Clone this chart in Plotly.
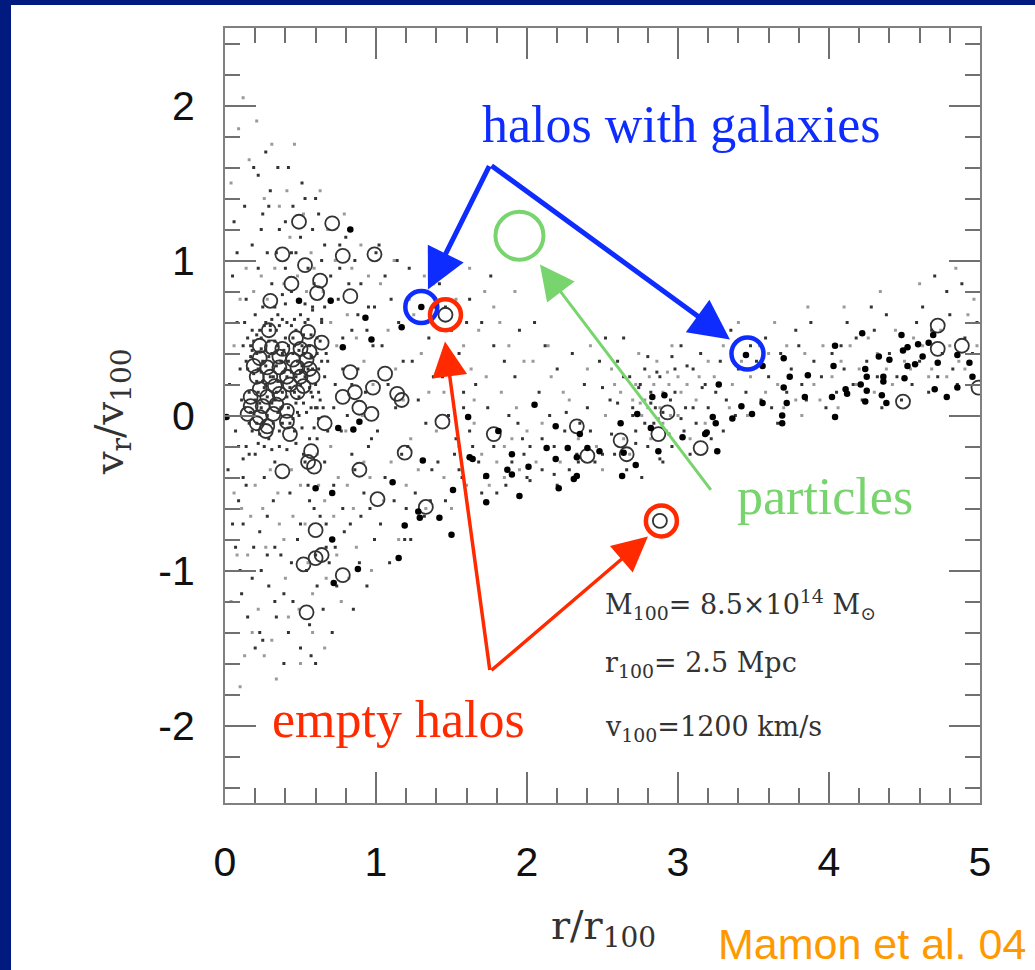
import plotly.graph_objects as go

# ---------------- data (r/r100, vr/v100) ----------------
# dark-matter particles, darker specks (approximate subsample)
particles_r = [
 0.05,0.08,0.10,0.07,0.12,0.05,0.10,0.15,0.18,0.14,0.17,0.03,0.13,0.16,0.09,0.19,0.11,0.20,0.06,0.02,
 0.22,0.25,0.28,0.31,0.35,0.24,0.38,0.27,0.33,0.21,0.36,0.26,0.32,0.23,0.37,0.29,0.34,0.25,0.39,0.30,0.36,0.22,0.40,0.30,0.38,0.28,0.24,0.33,0.27,0.35,
 0.42,0.45,0.50,0.55,0.44,0.58,0.47,0.52,0.41,0.57,0.46,0.53,0.43,0.59,0.48,0.54,0.45,0.56,0.50,0.60,0.51,0.58,0.44,0.49,0.55,0.60,0.42,0.57,
 0.62,0.66,0.70,0.75,0.64,0.78,0.68,0.73,0.61,0.77,0.66,0.72,0.63,0.79,0.69,0.74,0.65,0.71,0.80,0.76,0.67,0.60,
 0.82,0.86,0.90,0.95,0.84,0.98,0.88,0.93,0.81,0.97,0.86,0.92,0.83,0.99,0.89,0.94,0.85,1.00,0.96,
 1.02,1.06,1.10,1.15,1.04,1.18,1.08,1.13,1.01,1.17,1.06,1.12,1.03,1.19,1.09,1.14,1.20,
 1.22,1.26,1.30,1.35,1.24,1.38,1.28,1.33,1.21,1.37,1.26,1.32,1.23,1.39,1.36,
 1.42,1.46,1.50,1.55,1.44,1.58,1.48,1.53,1.41,1.57,1.46,1.52,1.60,
 1.62,1.70,1.78,1.85,1.66,1.92,1.74,1.82,1.64,1.90,1.72,1.80,1.97,1.68,1.88,1.95,1.76,2.00,
 2.05,2.12,2.20,2.30,2.08,2.38,2.15,2.25,2.02,2.33,2.10,2.20,2.45,2.40,2.28,2.48,2.18,2.35,
 2.52,2.60,2.68,2.75,2.55,2.82,2.62,2.72,2.58,2.80,2.66,2.90,2.85,2.95,2.78,2.88,2.92,2.98,2.70,2.84,2.64,2.96,2.76,
 3.02,3.10,3.18,3.25,3.05,3.32,3.12,3.22,3.08,3.30,3.15,3.40,3.45,3.38,3.48,3.28,3.04,3.20,3.35,
 3.52,3.60,3.68,3.75,3.55,3.82,3.62,3.72,3.58,3.80,3.66,3.90,3.85,3.95,3.78,3.88,3.98,
 4.02,4.10,4.18,4.25,4.05,4.32,4.12,4.22,4.08,4.30,4.16,4.40,4.45,4.38,4.48,4.28,4.35,
 4.52,4.60,4.68,4.75,4.55,4.82,4.62,4.72,4.58,4.80,4.66,4.90,4.85,4.95,4.78,4.88,4.98,4.70,
 0.15,0.20,0.25,0.30,0.35,0.40,0.45,0.50,0.18,0.23,0.28,0.33,0.38,0.43,0.48,0.53,0.58,0.63,0.20,0.26,
 0.31,0.36,0.41,0.46,0.51,0.56,0.61,0.16,0.22,0.27,0.32,0.37,0.42,0.47,0.52,0.57,0.62,0.67,0.12,0.14,
 0.13,0.17,0.21,0.24,0.29,0.34,0.39,0.44,0.49,0.54,0.59,0.64,0.14,0.19,0.23,0.26,0.31,0.35,0.40,0.45,
 0.50,0.55,0.60,0.65,0.11,0.16,0.21,0.25,0.30,0.34,0.38,0.43,0.47,0.52,0.57,0.62,0.12,0.18,0.22,0.27,
 0.32,0.37,0.41,0.46,0.51,0.56,0.61,0.66,0.15,0.20,0.24,0.29,0.33,0.38,0.42,0.48,0.53,0.58,0.63,0.68,
 0.19,0.24,0.28,0.33,0.37,0.42,0.47,0.52,0.57,0.62,0.17,0.22,0.27,0.31,0.36,0.41,0.46,0.51,0.55,0.60,
 0.21,0.25,0.29,0.34,0.39,0.44,0.49,0.53,0.58,0.64,0.18,0.23,0.26,0.31,0.35,0.40,0.45,0.50,0.56,0.61,
 0.08,0.13,0.19,0.24,0.29,0.34,0.40,0.47,0.53,0.59,0.64,0.70,0.76,0.82,0.88,0.94,0.99,
 0.07,0.12,0.18,0.23,0.28,0.33,0.39,0.44,0.50,0.56,0.61,0.67,0.73,0.78,0.84,0.90,0.95,
 0.09,0.14,0.66,0.72,0.78,0.84,
 2.70,2.74,2.78,2.82,2.86,2.90,2.94,2.98,3.02,3.06,2.72,2.80,2.88,2.96,3.10,3.16,2.60,2.64,2.56,2.50,
 1.55,1.62,1.70,1.78,1.86,1.94,2.02,2.10,2.18,2.26,2.34,2.42,2.50,1.58,1.98,
]
particles_v = [
 0.90,0.60,0.30,-0.10,-0.40,-0.70,-1.00,-1.30,1.10,0.75,0.45,0.20,0.05,-0.25,-0.55,-0.85,-1.15,-1.50,1.25,-0.35,
 1.55,1.30,1.05,0.85,0.65,0.50,0.40,0.20,0.10,-0.05,-0.20,-0.40,-0.55,-0.75,-0.90,-1.10,-1.30,-1.45,-1.60,1.45,1.20,0.95,0.95,0.55,-0.05,-0.65,-1.00,-1.20,1.70,1.60,
 1.60,1.35,1.15,0.95,0.80,0.70,0.55,0.40,0.25,0.15,-0.10,-0.30,-0.50,-0.60,-0.80,-1.00,-1.20,-1.35,-1.50,1.40,1.50,1.20,1.05,0.00,-0.45,-0.90,-1.40,-1.55,
 1.30,1.10,0.90,0.75,0.60,0.50,0.35,0.20,0.05,-0.10,-0.30,-0.45,-0.65,-0.75,-0.95,-1.10,-1.25,-1.40,1.15,0.95,-0.85,-1.60,
 1.20,1.00,0.85,0.70,0.55,0.45,0.30,0.15,0.00,-0.15,-0.35,-0.50,-0.70,-0.80,-0.95,-1.10,-1.25,1.05,-0.60,
 1.10,0.90,0.75,0.60,0.45,0.35,0.20,0.05,-0.10,-0.25,-0.40,-0.55,-0.70,-0.80,-0.95,1.00,-0.60,
 0.95,0.80,0.60,0.50,0.35,0.25,0.10,-0.05,-0.20,-0.35,-0.50,-0.65,-0.80,0.70,-0.55,
 0.85,0.70,0.55,0.40,0.25,0.15,0.00,-0.15,-0.30,-0.40,-0.55,-0.25,0.60,
 0.75,0.60,0.45,0.35,0.20,0.25,0.05,-0.10,-0.20,-0.30,-0.40,-0.50,-0.15,-0.30,0.00,0.55,0.90,-0.40,
 0.60,0.45,0.30,0.40,0.15,0.20,0.00,-0.10,-0.20,-0.25,-0.35,-0.45,-0.30,0.05,-0.35,0.35,-0.20,-0.05,
 0.50,0.35,0.25,0.20,0.10,0.15,-0.05,-0.10,-0.25,-0.20,-0.35,-0.30,0.05,0.10,0.30,0.25,-0.10,0.30,0.00,-0.05,0.50,-0.20,-0.40,
 0.45,0.30,0.20,0.15,0.05,0.10,-0.05,-0.15,-0.25,-0.10,0.40,0.30,0.15,0.00,0.45,0.35,-0.10,0.05,0.55,
 0.35,0.25,0.40,0.30,0.10,0.20,0.05,0.15,0.50,0.45,-0.05,0.35,0.10,0.25,0.55,0.60,0.05,
 0.40,0.30,0.50,0.35,0.15,0.25,0.60,0.10,0.45,0.55,0.20,0.40,0.25,0.65,0.10,0.70,0.05,
 0.45,0.35,0.55,0.40,0.20,0.30,0.70,0.25,0.60,0.65,0.15,0.50,0.20,0.40,0.80,0.85,0.60,0.90,
 0.30,0.10,0.35,0.25,0.45,0.30,0.50,0.20,-0.10,0.55,0.00,0.70,0.15,-0.05,0.35,0.60,0.30,0.10,0.65,-0.20,
 0.40,-0.10,0.60,0.15,0.45,-0.15,0.50,0.15,0.30,0.60,-0.05,0.35,0.05,0.25,-0.25,0.05,0.30,0.40,0.45,-0.20,
 0.60,0.38,0.22,0.05,-0.15,0.55,0.42,0.28,0.12,0.02,-0.08,0.62,0.35,0.48,-0.12,0.18,0.08,0.22,0.50,0.40,
 0.65,0.30,0.20,0.05,0.10,-0.05,0.40,0.70,0.58,0.32,0.62,0.18,-0.18,0.08,0.52,-0.02,-0.28,0.55,0.15,0.42,
 0.25,0.05,-0.22,0.62,0.32,0.18,0.40,0.25,0.50,-0.25,0.28,0.48,-0.30,0.78,0.45,0.02,0.72,0.12,0.48,-0.10,
 0.27,0.43,0.12,0.48,0.22,0.35,0.08,0.52,0.38,0.15,0.02,-0.18,0.32,0.62,0.58,0.12,0.45,-0.08,0.62,0.05,
 0.52,0.22,0.38,0.15,0.28,0.58,0.42,0.25,0.68,0.35,0.42,0.08,0.58,-0.22,0.02,0.72,-0.02,0.28,0.45,-0.15,
 1.05,1.35,1.60,1.20,1.35,1.05,1.25,1.05,1.40,0.85,1.00,0.75,1.10,0.85,0.65,0.55,0.70,
 -0.85,-0.70,-1.05,-1.40,-0.90,-0.85,-1.15,-0.95,-0.70,-0.55,-1.10,-0.70,-0.85,-0.60,-0.25,-0.65,-0.20,
 -0.20,-0.45,0.70,0.05,0.30,0.20,
 0.05,0.18,-0.05,0.08,0.28,0.02,-0.12,0.15,-0.02,0.32,-0.18,0.38,-0.28,0.38,0.05,0.18,0.08,0.25,-0.12,0.18,
 -0.35,-0.10,-0.50,-0.20,-0.45,-0.05,-0.42,-0.15,-0.38,0.02,-0.30,-0.10,-0.25,0.05,-0.25,
]

# fainter (grey) particle specks
faint_r = [
 0.04,0.09,0.12,0.16,0.21,0.26,0.31,0.36,0.41,0.46,0.52,0.57,0.63,0.68,0.73,0.79,0.84,0.90,0.95,
 0.04,0.08,0.13,0.17,0.22,0.27,0.31,0.36,0.40,0.44,0.49,0.53,0.58,0.62,0.67,0.72,0.77,0.81,0.87,0.92,0.97,
 0.06,0.10,0.14,0.19,0.24,0.28,0.33,0.39,0.43,0.48,0.54,0.59,0.65,0.70,0.74,0.81,0.87,0.92,0.98,
 0.06,0.11,0.15,0.20,0.25,0.30,0.35,0.39,0.45,0.50,0.55,0.61,0.66,0.70,0.75,0.80,0.85,0.91,0.96,
 0.10,0.18,0.26,0.34,0.42,0.50,0.58,0.66,0.74,0.82,
 1.03,1.08,1.13,1.18,1.23,1.28,1.33,1.38,1.43,1.48,1.53,1.58,1.63,1.68,1.73,1.78,1.83,1.88,1.93,1.98,
 1.05,1.10,1.15,1.20,1.25,1.30,1.35,1.40,1.45,1.50,1.55,1.60,1.65,1.70,1.75,1.80,1.85,1.90,1.95,2.00,
 1.12,1.22,1.32,1.42,1.52,1.62,1.72,1.82,1.92,1.45,1.65,1.85,
 2.04,2.10,2.16,2.22,2.28,2.34,2.40,2.46,2.52,2.58,2.64,2.70,2.76,2.82,2.88,2.94,3.00,3.06,3.12,3.18,
 2.06,2.14,2.24,2.32,2.42,2.50,2.56,2.62,2.68,2.74,2.80,2.86,2.90,2.96,3.02,3.08,3.14,3.20,
 2.72,2.78,2.84,2.90,2.95,3.00,2.87,2.81,2.75,2.93,
 3.24,3.30,3.36,3.42,3.48,3.54,3.60,3.66,3.72,3.78,3.84,3.90,3.96,4.02,4.08,4.14,4.20,4.26,4.32,4.38,
 4.44,4.50,4.56,4.62,4.68,4.74,4.80,4.86,4.92,4.98,
 3.34,3.46,3.58,3.70,3.82,3.94,4.06,4.18,4.30,4.42,4.54,4.66,4.78,4.90,
 3.40,3.64,3.86,4.10,4.34,4.60,4.84,4.96,
]
faint_v = [
 1.50,1.85,2.05,1.65,1.90,1.40,1.75,1.35,1.45,1.75,1.30,1.05,1.45,1.20,1.00,1.30,0.95,1.10,0.90,
 -1.20,-0.90,-1.55,-0.65,-1.25,-0.85,-1.45,-0.70,-1.05,-0.35,-1.25,-0.70,-1.15,-0.45,-1.05,-0.65,-1.20,-0.45,-0.85,-0.30,-1.00,
 0.45,0.75,0.95,0.80,0.90,0.75,0.95,0.85,1.15,0.90,0.80,0.95,0.80,0.60,0.45,0.65,0.50,0.35,0.20,
 -0.50,-0.60,-0.90,-0.45,-0.60,-0.35,-0.50,-0.80,-0.65,-0.45,-0.95,-0.25,-0.55,-0.20,-0.40,-0.10,-0.60,0.00,-0.40,
 -1.75,-1.40,-1.55,-1.70,-1.30,-1.60,-1.40,-1.50,-0.90,-1.05,
 0.85,0.55,0.30,0.10,-0.15,-0.35,-0.60,0.85,0.55,0.35,0.75,0.45,0.30,0.55,0.25,0.70,0.15,0.45,0.05,0.35,
 -0.55,-0.30,-0.80,-0.45,0.65,0.40,0.15,-0.10,-0.40,-0.60,-0.20,-0.45,-0.05,-0.25,-0.45,-0.30,-0.40,-0.15,-0.35,-0.10,
 1.00,0.75,0.90,1.05,1.00,0.95,0.80,0.60,0.80,0.15,0.10,-0.20,
 0.35,-0.05,0.25,-0.30,0.10,-0.15,0.30,-0.20,0.00,0.20,-0.15,0.10,0.00,-0.15,0.05,0.20,0.00,0.20,0.10,-0.05,
 -0.30,0.45,0.15,-0.40,0.45,-0.35,0.30,0.15,-0.25,0.40,0.05,0.35,-0.05,0.45,0.15,-0.15,0.25,0.35,
 0.20,0.10,0.20,0.15,0.00,0.25,-0.02,0.25,0.08,0.28,
 0.25,0.45,0.20,0.35,0.25,0.45,0.40,0.20,0.45,0.10,0.40,0.20,0.45,0.25,0.35,0.45,0.30,0.50,0.40,0.30,
 0.55,0.35,0.50,0.45,0.30,0.55,0.45,0.35,0.65,0.45,
 0.05,0.00,0.15,0.05,0.00,0.10,0.05,0.20,0.15,0.20,0.30,0.25,0.25,0.30,
 0.60,0.60,0.70,0.70,0.80,0.85,0.95,0.75,
]

# empty halos (open circles)
empty_r = [0.49,0.71,0.38,0.53,0.78,0.99,0.44,0.63,0.61,0.83,0.30,0.29,0.47,0.55,0.64,0.83,1.06,0.98,0.78,0.86,
           0.89,0.97,1.14,1.17,1.44,1.46,0.66,0.23,0.31,0.38,0.50,0.56,0.23,0.36,0.45,0.54,0.19,0.28,0.36,0.48,
           0.56,0.21,0.30,0.41,0.50,0.58,0.23,0.33,0.43,0.52,0.17,0.28,0.36,0.48,0.17,0.25,0.34,0.15,0.23,0.32,
           0.41,0.21,0.28,0.41,0.27,0.43,0.57,0.55,0.59,0.38,0.89,1.19,1.01,1.33,0.60,0.64,0.60,0.52,0.78,0.54,
           1.78,2.33,2.40,2.62,2.66,2.87,2.93,3.15,2.88,4.72,4.72,4.88,4.49,4.99]
empty_v = [1.25,1.24,1.04,0.97,1.03,1.04,0.85,0.87,0.79,0.77,0.74,0.55,0.50,0.54,0.47,0.28,0.27,0.18,0.12,0.15,
           0.05,0.01,0.14,0.10,-0.04,0.65,-0.05,0.45,0.44,0.43,0.43,0.41,0.37,0.38,0.36,0.36,0.32,0.31,0.31,0.31,
           0.30,0.25,0.25,0.25,0.25,0.25,0.17,0.19,0.20,0.19,0.12,0.12,0.14,0.15,0.06,0.06,0.07,0.01,-0.01,0.01,
           0.03,-0.05,-0.07,-0.04,-0.10,-0.12,-0.23,-0.30,-0.33,-0.36,-0.35,-0.24,-0.54,-0.59,-0.74,-0.90,-0.92,-0.96,-1.03,-1.27,
           -0.12,-0.07,-0.26,-0.16,-0.25,-0.12,0.02,-0.21,-0.68,0.58,0.43,0.45,0.09,0.18]

# halos with galaxies (filled dots)
gal_r = [0.83,0.49,0.70,0.93,1.17,0.97,0.78,1.30,0.01,0.75,0.85,0.89,1.61,1.31,1.62,1.11,1.51,0.60,0.71,1.28,
         1.29,1.42,1.19,1.50,0.71,1.15,0.88,0.72,2.05,2.19,1.81,2.35,2.62,2.73,2.83,2.91,3.27,3.23,3.25,3.18,
         3.03,1.64,1.90,2.13,2.27,2.19,2.33,2.40,2.48,2.01,1.87,1.90,1.73,2.33,2.31,2.21,1.95,1.73,2.63,2.72,
         2.64,2.82,2.87,3.26,3.19,3.45,3.70,3.56,3.74,3.86,3.70,3.84,3.56,3.72,3.42,3.49,3.69,3.69,3.36,4.04,
         4.02,4.11,4.12,4.03,4.04,4.22,4.24,4.25,4.21,4.25,4.24,4.33,4.40,4.36,4.36,4.35,4.38,4.48,4.49,4.52,
         4.59,4.50,4.57,4.62,4.66,4.72,4.70,4.78,4.85,4.85,4.93,4.95,4.69,4.52]
gal_v = [1.20,0.74,0.74,0.63,0.57,0.49,0.44,0.70,-0.01,-0.08,-0.09,-0.04,-0.01,-0.29,-0.27,-0.43,-0.48,-0.47,-0.50,-0.62,
         -0.66,-0.66,-0.71,-0.77,-0.80,-0.92,-0.99,-1.08,0.07,-0.07,-0.10,-0.12,-0.05,0.01,0.12,0.13,0.20,-0.01,-0.05,-0.12,
         -0.14,-0.28,-0.25,-0.21,-0.21,-0.28,-0.27,-0.21,-0.23,-0.33,-0.35,-0.38,-0.39,-0.39,-0.41,-0.47,-0.52,-0.56,-0.39,-0.32,
         -0.24,-0.08,-0.23,-0.23,-0.11,0.39,0.37,0.32,0.25,0.26,0.18,0.12,0.08,0.08,0.06,0.01,0.00,-0.05,-0.02,-0.01,
         0.12,0.17,0.14,0.32,0.45,0.53,0.30,0.25,0.20,0.16,0.09,0.38,0.36,0.25,0.22,0.13,0.08,0.52,0.42,0.44,
         0.46,0.24,0.33,0.38,0.47,0.34,0.17,0.12,0.18,0.39,0.34,0.25,0.52,0.32]

# highlighted objects
blue_r = [1.30, 3.46]; blue_v = [0.70, 0.40]
red_r = [1.46, 2.89];  red_v = [0.65, -0.68]
green_r = [1.95];      green_v = [1.16]

x_ticks = [0, 1, 2, 3, 4, 5]
x_ticktext = ["0", "1", "2", "3", "4", "5"]
y_ticks = [-2, -1, 0, 1, 2]
y_ticktext = ["-2", "-1", "0", "1", "2"]

n = min(len(particles_r), len(particles_v)); particles_r, particles_v = particles_r[:n], particles_v[:n]
n = min(len(faint_r), len(faint_v)); faint_r, faint_v = faint_r[:n], faint_v[:n]

# ---------------- figure ----------------
W, H = 1035, 970
L, R, T, B = 225, 55, 28, 167
PW, PH = W - L - R, H - T - B

def px2paper_x(px):
    return (px - L) / PW

def px2paper_y(py):
    return (H - B - py) / PH

fig = go.Figure()
fig.add_trace(go.Scatter(x=faint_r, y=faint_v, mode="markers",
                         marker=dict(symbol="square", size=3, color="#9a9a9a"),
                         hoverinfo="skip", showlegend=False))
fig.add_trace(go.Scatter(x=particles_r, y=particles_v, mode="markers",
                         marker=dict(symbol="square", size=3, color="#333"),
                         hoverinfo="skip", showlegend=False))
fig.add_trace(go.Scatter(x=empty_r, y=empty_v, mode="markers",
                         marker=dict(symbol="circle-open", size=14, color="#333",
                                     line=dict(width=1.8, color="#333")),
                         showlegend=False))
fig.add_trace(go.Scatter(x=gal_r, y=gal_v, mode="markers",
                         marker=dict(symbol="circle", size=6.5, color="#000"),
                         showlegend=False))

shapes = []
navy = "#001a80"
shapes.append(dict(type="rect", xref="paper", yref="paper", layer="below",
                   x0=px2paper_x(0), x1=px2paper_x(11), y0=px2paper_y(970), y1=px2paper_y(0),
                   fillcolor=navy, line=dict(width=0)))
shapes.append(dict(type="rect", xref="paper", yref="paper", layer="below",
                   x0=px2paper_x(0), x1=px2paper_x(1035), y0=px2paper_y(5), y1=px2paper_y(0),
                   fillcolor=navy, line=dict(width=0)))

def ring(xc, yc, rad, color, w):
    return dict(type="circle", xref="x", yref="y", xsizemode="pixel", ysizemode="pixel",
                xanchor=xc, yanchor=yc, x0=-rad, x1=rad, y0=-rad, y1=rad,
                line=dict(color=color, width=w))

BLUE, RED, GREEN, ORANGE = "#0f2cff", "#ff2a00", "#78d46c", "#ff9900"
for xr, yv in zip(blue_r, blue_v):
    shapes.append(ring(xr, yv, 16, BLUE, 4.5))
for xr, yv in zip(red_r, red_v):
    shapes.append(ring(xr, yv, 15.5, RED, 4.5))
for xr, yv in zip(green_r, green_v):
    shapes.append(ring(xr, yv, 24, GREEN, 4))

ann = []
def arrow(x, y, ax, ay, color, w, size):
    return dict(x=x, y=y, ax=ax, ay=ay, xref="x", yref="y", axref="x", ayref="y",
                showarrow=True, arrowhead=2, arrowsize=size, arrowwidth=w,
                arrowcolor=color, text="", standoff=0, startstandoff=0)

ann.append(arrow(1.344, 0.813, 1.755, 1.619, BLUE, 5, 1.6))
ann.append(arrow(3.344, 0.49, 1.755, 1.619, BLUE, 5, 1.6))
ann.append(arrow(1.457, 0.477, 1.755, -1.652, RED, 3.5, 2.0))
ann.append(arrow(2.801, -0.781, 1.755, -1.652, RED, 3.5, 2.0))
ann.append(arrow(2.086, 0.974, 3.225, -0.49, GREEN, 3, 2.3))

serif = "Liberation Serif, Times New Roman, serif"
def label(x, y, text, font, xref="x", yref="y", xanchor="center", **kw):
    return dict(x=x, y=y, xref=xref, yref=yref, text=text, showarrow=False,
                xanchor=xanchor, yanchor="middle", font=font, **kw)

ann.append(label(3.026, 1.877, "halos with galaxies", dict(family=serif, size=52, color=BLUE)))
ann.append(label(3.974, -0.52, "particles", dict(family=serif, size=52, color=GREEN)))
ann.append(label(1.152, -1.96, "empty halos", dict(family=serif, size=52, color=RED)))
ann.append(label(px2paper_x(872), px2paper_y(944), "Mamon et al. 04",
                 dict(family="Liberation Sans, Arial, sans-serif", size=43, color=ORANGE),
                 xref="paper", yref="paper"))

info_font = dict(family="DejaVu Serif, serif", size=27, color="#333")
info_lines = ["M<sub>100</sub>= 8.5×10<sup>14</sup> M<sub>⊙</sub>",
              "r<sub>100</sub>= 2.5 Mpc",
              "v<sub>100</sub>=1200 km/s"]
for txt, py in zip(info_lines, [604, 664, 728]):
    ann.append(label(px2paper_x(603), px2paper_y(py), txt, info_font,
                     xref="paper", yref="paper", xanchor="left"))

title_font = dict(family="DejaVu Serif, serif", size=40, color="#333")
ann.append(label(px2paper_x(112), px2paper_y(412), "v<sub>r</sub>/v<sub>100</sub>", title_font,
                 xref="paper", yref="paper", textangle=-90))
ann.append(label(px2paper_x(603), px2paper_y(928), "r/r<sub>100</sub>", title_font,
                 xref="paper", yref="paper"))

axis_common = dict(showline=True, linecolor="#808080", linewidth=2, mirror="allticks",
                   ticks="inside", ticklen=31, tickwidth=1.6, tickcolor="#707070",
                   showgrid=False, zeroline=False,
                   tickfont=dict(family="Liberation Sans, Arial, sans-serif", size=41, color="#111"),
                   minor=dict(ticks="inside", ticklen=15, tickwidth=1.6, tickcolor="#707070",
                              dtick=0.2, tick0=0, showgrid=False))

fig.update_layout(
    width=W, height=H, margin=dict(l=L, r=R, t=T, b=B, autoexpand=False),
    paper_bgcolor="white", plot_bgcolor="white",
    xaxis=dict(range=[0, 5], tickmode="array", tickvals=x_ticks, ticktext=x_ticktext,
               ticklabelstandoff=22, **axis_common),
    yaxis=dict(range=[-2.5, 2.5], tickmode="array", tickvals=y_ticks, ticktext=y_ticktext,
               ticklabelstandoff=20, **axis_common),
    shapes=shapes, annotations=ann,
)

fig.write_html("out.html")
